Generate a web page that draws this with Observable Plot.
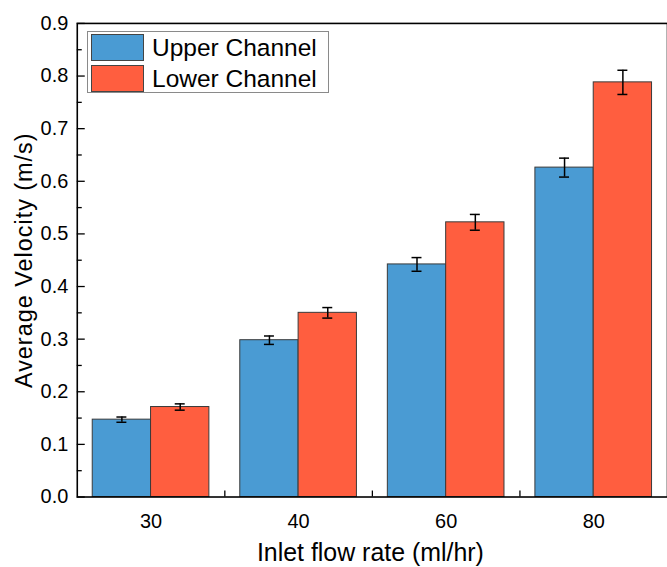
<!DOCTYPE html>
<html>
<head>
<meta charset="utf-8">
<script src="https://cdn.jsdelivr.net/npm/d3@7"></script>
<script src="https://cdn.jsdelivr.net/npm/@observablehq/plot@0.6"></script>
<style>
  html, body { margin: 0; padding: 0; background: #fff; overflow: hidden; }
  #wrap { position: relative; width: 667px; height: 567px; overflow: hidden; font-family: Arial, "Liberation Sans", sans-serif; }
  #legend { position: absolute; left: 87px; top: 31px; width: 242px; height: 62px; border: 1px solid #8a8a8a; background: #fff; box-sizing: border-box; }
  .item { position: absolute; left: 3px; height: 27px; display: flex; align-items: center; font-size: 24.5px; color: #000; white-space: nowrap; }
  .sw { width: 53px; height: 27px; border: 1px solid #444; box-sizing: border-box; margin-right: 8px; }
</style>
</head>
<body>
<div id="wrap">
  <div id="chart"></div>
  <div id="legend"></div>
</div>
<script>
const categories = ["30", "40", "60", "80"];
const seriesNames = ["Upper Channel", "Lower Channel"];
const upper = [0.147, 0.298, 0.442, 0.626];
const lower = [0.171, 0.350, 0.522, 0.788];
const upperErr = [0.005, 0.008, 0.013, 0.018];
const lowerErr = [0.006, 0.010, 0.015, 0.023];
const colors = ["#4A9BD3", "#FF5E3F"];
const yMajor = [0, 0.1, 0.2, 0.3, 0.4, 0.5, 0.6, 0.7, 0.8, 0.9];
const yMinor = [0.05, 0.15, 0.25, 0.35, 0.45, 0.55, 0.65, 0.75, 0.85];

const up = categories.map((c, i) => ({cat: c, v: upper[i], e: upperErr[i]}));
const lo = categories.map((c, i) => ({cat: c, v: lower[i], e: lowerErr[i]}));

const W = 669, mL = 77, mR = 0, mT = 23, mB = 69, H = 567;
const pw = W - mL - mR, ph = H - mT - mB;
const step = pw / categories.length;   // band width
const half = step / 2;
const pad = 15.5;                        // gap at each side of a group
const barMid = (pad + half) / 2;         // offset of a bar's centre from band start
const cap = 5;

const font = 'Arial, "Liberation Sans", sans-serif';
const errStyle = {stroke: "black", strokeWidth: 1.5};

const chart = Plot.plot({
  width: W, height: H,
  marginLeft: mL, marginRight: mR, marginTop: mT, marginBottom: mB,
  style: {fontFamily: font, background: "white", overflow: "visible"},
  x: {domain: categories, padding: 0, axis: null},
  y: {domain: [0, 0.9], axis: null},
  marks: [
    Plot.barY(up, {x: "cat", y: "v", fill: colors[0], stroke: "#3a3a3a", strokeWidth: 1, insetLeft: pad, insetRight: half}),
    Plot.barY(lo, {x: "cat", y: "v", fill: colors[1], stroke: "#3a3a3a", strokeWidth: 1, insetLeft: half, insetRight: pad}),
    // error bars
    Plot.ruleX(up, {x: "cat", y1: d => d.v - d.e, y2: d => d.v + d.e, dx: barMid - half, ...errStyle}),
    Plot.ruleX(lo, {x: "cat", y1: d => d.v - d.e, y2: d => d.v + d.e, dx: half - barMid, ...errStyle}),
    ...[d => d.v + d.e, d => d.v - d.e].flatMap(f => [
      Plot.tickY(up, {x: "cat", y: f, insetLeft: barMid - cap, insetRight: step - barMid - cap, ...errStyle}),
      Plot.tickY(lo, {x: "cat", y: f, insetLeft: step - barMid - cap, insetRight: barMid - cap, ...errStyle})
    ]),
    // inward y ticks
    Plot.tickY(yMajor, {y: d => d, insetRight: pw - 8, stroke: "black", strokeWidth: 1.3}),
    Plot.tickY(yMinor, {y: d => d, insetRight: pw - 5, stroke: "black", strokeWidth: 1.3}),
    // inward x ticks at group boundaries
    Plot.tickX(categories.slice(1), {x: d => d, dx: -half, insetTop: ph - 6, stroke: "black", strokeWidth: 1.3}),
    Plot.frame({stroke: "black", strokeWidth: 1.6}),
    // tick labels
    Plot.text(yMajor, {y: d => d, frameAnchor: "left", text: d => d.toFixed(1), textAnchor: "end", lineAnchor: "middle", dx: -9, fontSize: 20, fill: "black"}),
    Plot.text(categories, {x: d => d, frameAnchor: "bottom", text: d => d, lineAnchor: "middle", textAnchor: "middle", dy: 25, fontSize: 20, fill: "black"}),
    // axis titles
    Plot.text(["Average Velocity (m/s)"], {frameAnchor: "left", rotate: -90, textAnchor: "middle", lineAnchor: "middle", dx: -53, fontSize: 23.5, fill: "black", style: "letter-spacing: 1px"}),
    Plot.text(["Inlet flow rate (ml/hr)"], {frameAnchor: "bottom", textAnchor: "middle", lineAnchor: "middle", dy: 56, dx: -(W - 667) / 2 - 1, fontSize: 25, fill: "black"})
  ]
});
chart.querySelectorAll("text").forEach(t => {
  if (t.textContent === "Average Velocity (m/s)") t.style.letterSpacing = "1px";
});
document.getElementById("chart").appendChild(chart);

const legend = document.getElementById("legend");
seriesNames.forEach((name, i) => {
  const it = document.createElement("div");
  it.className = "item";
  it.style.top = (2 + i * 31) + "px";
  const sw = document.createElement("div");
  sw.className = "sw";
  sw.style.background = colors[i];
  it.appendChild(sw);
  it.appendChild(document.createTextNode(name));
  legend.appendChild(it);
});
</script>
</body>
</html>
